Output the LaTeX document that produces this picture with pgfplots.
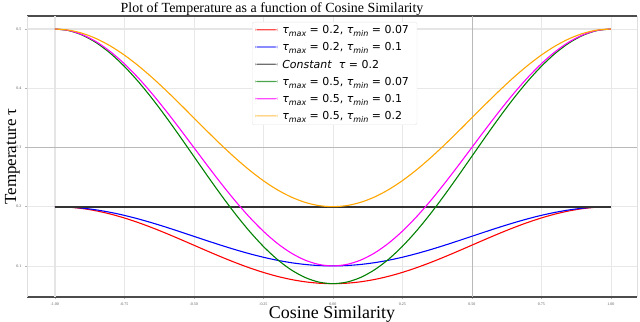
\documentclass[border=0pt]{standalone}
\usepackage{fontspec}
\setmainfont{Liberation Serif}
\newfontfamily\dejavu{DejaVu Sans}
\usepackage{pgfplots}
\usepackage{pgfplotstable}
\pgfplotsset{compat=1.18}

% x, then one column per curve
\pgfplotstableread{
x      A       B       C    D       E       F
-1.00  0.20000 0.20000 0.2  0.50000 0.50000 0.50000
-0.95  0.19920 0.19938 0.2  0.49735 0.49754 0.49815
-0.90  0.19682 0.19755 0.2  0.48948 0.49021 0.49266
-0.85  0.19292 0.19455 0.2  0.47657 0.47820 0.48365
-0.80  0.18759 0.19045 0.2  0.45894 0.46180 0.47135
-0.75  0.18096 0.18536 0.2  0.43703 0.44142 0.45607
-0.70  0.17321 0.17939 0.2  0.41137 0.41756 0.43815
-0.65  0.16451 0.17270 0.2  0.38261 0.39080 0.41810
-0.60  0.15509 0.16545 0.2  0.35144 0.36180 0.39635
-0.55  0.14517 0.15782 0.2  0.31863 0.33129 0.37347
-0.50  0.13500 0.15000 0.2  0.28500 0.30000 0.35000
-0.45  0.12483 0.14218 0.2  0.25137 0.26871 0.32653
-0.40  0.11491 0.13455 0.2  0.21856 0.23820 0.30365
-0.35  0.10549 0.12730 0.2  0.18739 0.20920 0.28190
-0.30  0.09679 0.12061 0.2  0.15863 0.18244 0.26183
-0.25  0.08904 0.11464 0.2  0.13297 0.15858 0.24393
-0.20  0.08241 0.10955 0.2  0.11106 0.13820 0.22865
-0.15  0.07708 0.10545 0.2  0.09343 0.12180 0.21635
-0.10  0.07318 0.10245 0.2  0.08052 0.10979 0.20734
-0.05  0.07080 0.10062 0.2  0.07265 0.10246 0.20185
 0.00  0.07000 0.10000 0.2  0.07000 0.10000 0.20000
 0.05  0.07080 0.10062 0.2  0.07265 0.10246 0.20185
 0.10  0.07318 0.10245 0.2  0.08052 0.10979 0.20734
 0.15  0.07708 0.10545 0.2  0.09343 0.12180 0.21635
 0.20  0.08241 0.10955 0.2  0.11106 0.13820 0.22865
 0.25  0.08904 0.11464 0.2  0.13297 0.15858 0.24393
 0.30  0.09679 0.12061 0.2  0.15863 0.18244 0.26183
 0.35  0.10549 0.12730 0.2  0.18739 0.20920 0.28190
 0.40  0.11491 0.13455 0.2  0.21856 0.23820 0.30365
 0.45  0.12483 0.14218 0.2  0.25137 0.26871 0.32653
 0.50  0.13500 0.15000 0.2  0.28500 0.30000 0.35000
 0.55  0.14517 0.15782 0.2  0.31863 0.33129 0.37347
 0.60  0.15509 0.16545 0.2  0.35144 0.36180 0.39635
 0.65  0.16451 0.17270 0.2  0.38261 0.39080 0.41810
 0.70  0.17321 0.17939 0.2  0.41137 0.41756 0.43815
 0.75  0.18096 0.18536 0.2  0.43703 0.44142 0.45607
 0.80  0.18759 0.19045 0.2  0.45894 0.46180 0.47135
 0.85  0.19292 0.19455 0.2  0.47657 0.47820 0.48365
 0.90  0.19682 0.19755 0.2  0.48948 0.49021 0.49266
 0.95  0.19920 0.19938 0.2  0.49735 0.49754 0.49815
 1.00  0.20000 0.20000 0.2  0.50000 0.50000 0.50000
}\temps

\definecolor{mplgreen}{HTML}{008000}
\definecolor{mplorange}{HTML}{FFA500}
\definecolor{mplmagenta}{HTML}{FF00FF}
\newcommand{\tsub}[1]{{\itshape τ}\raisebox{-0.45ex}{\fontsize{8}{8}\selectfont\itshape #1}}

\begin{document}
\begin{tikzpicture}
\begin{axis}[
    scale only axis,
    width=610bp, height=281bp,
    xmin=-1.1, xmax=1.094,
    ymin=0.0475, ymax=0.522,
    xtick={-1,-0.75,...,1},
    ytick={0.1,0.2,0.3,0.4,0.5},
    xticklabel style={/pgf/number format/.cd, fixed, fixed zerofill, precision=2},
    yticklabel style={/pgf/number format/.cd, fixed, precision=1},
    /pgf/number format/assume math mode=true,
    tick label style={font=\fontsize{4}{4}\selectfont, gray!70!black},
    tick align=outside, tick pos=left,
    major tick length=2bp,
    tick style={gray!60, line width=0.4pt},
    grid=major,
    major grid style={gray!18, line width=0.6pt},
    axis line style={line width=1.2pt, black!70},
    separate axis lines,
    y axis line style={gray!25, line width=0.6pt},
    title={Plot of Temperature as a function of Cosine Similarity},
    title style={font=\fontsize{14}{14}\selectfont, yshift=-9bp, xshift=-60bp},
    xlabel={Cosine Similarity},
    ylabel={Temperature τ},
    xlabel style={font=\fontsize{18}{18}\selectfont, yshift=6bp},
    ylabel style={font=\fontsize{17}{17}\selectfont, yshift=-10bp},
    legend cell align=left,
    legend style={at={(0.369,0.979)}, anchor=north west,
        draw=gray!20, rounded corners=2pt, fill=white,
        font=\dejavu\fontsize{11}{13}\selectfont,
        inner xsep=3bp, inner ysep=1.5bp, row sep=3.6bp,
        nodes={inner xsep=5bp}},
    legend image code/.code={%
        \fill[#1, draw=none, opacity=0.7] (0bp,0bp) rectangle (22bp,1.2bp);},
]
% emphasised grid lines of the original
\addplot[gray!20, line width=2pt, forget plot] coordinates {(-1,0.0475) (-1,0.522)};
\addplot[gray!20, line width=2pt, forget plot] coordinates {(-1.1,0.5) (1,0.5)};
\addplot[gray!55, line width=0.6pt, forget plot] coordinates {(0.5,0.0475) (0.5,0.522)};
\addplot[gray!55, line width=0.6pt, forget plot] coordinates {(-1.1,0.3) (1.094,0.3)};

\addplot[color=red, line width=1.1pt, smooth] table[x=x, y=A] {\temps};
\addlegendentry{\tsub{max} = 0.2, \tsub{min} = 0.07}
\addplot[color=blue, line width=1.1pt, smooth] table[x=x, y=B] {\temps};
\addlegendentry{\tsub{max} = 0.2, \tsub{min} = 0.1}
\addplot[color=black!80, line width=1.8pt] table[x=x, y=C] {\temps};
\addlegendentry{\textit{Constant}\ \ {\itshape τ} = 0.2}
\addplot[color=mplgreen, line width=1.1pt, smooth] table[x=x, y=D] {\temps};
\addlegendentry{\tsub{max} = 0.5, \tsub{min} = 0.07}
\addplot[color=mplmagenta, line width=1.1pt, smooth] table[x=x, y=E] {\temps};
\addlegendentry{\tsub{max} = 0.5, \tsub{min} = 0.1}
\addplot[color=mplorange, line width=1.1pt, smooth] table[x=x, y=F] {\temps};
\addlegendentry{\tsub{max} = 0.5, \tsub{min} = 0.2}
\end{axis}
\pgfresetboundingbox
\path ([shift={(-27bp,-25bp)}]current axis.south west) rectangle ([shift={(3bp,16bp)}]current axis.north east);
\end{tikzpicture}
\end{document}
